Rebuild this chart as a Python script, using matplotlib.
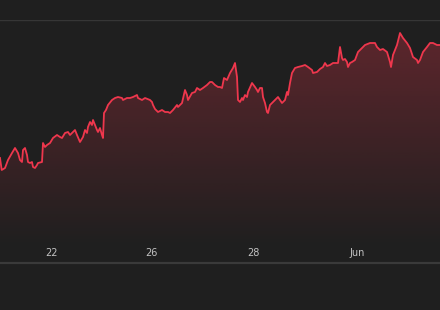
import numpy as np
import matplotlib
matplotlib.use("Agg")
import matplotlib.pyplot as plt
from matplotlib.colors import to_rgb

# session position (x) and price level (arbitrary units)
t = [0, 1.7, 5, 8, 12, 15, 18, 20, 22, 23, 25, 27, 28, 30, 32, 33, 35, 37, 38, 42, 43, 45, 47, 50,
     53, 57, 60, 62, 65, 68, 70, 73, 75, 77, 80, 83, 85, 87, 88, 90, 92, 93, 95, 97, 98, 100, 102,
     103, 104, 106, 108, 112, 115, 118, 122, 123, 127, 130, 133, 137, 138, 142, 145, 150, 152, 153,
     155, 158, 162, 165, 168, 170, 173, 177, 178, 182, 185, 187, 188, 192, 195, 197, 200, 203, 207,
     210, 212, 215, 218, 220, 222, 224, 227, 230, 233, 235, 237, 238, 240, 242, 243, 245, 247, 248,
     252, 255, 257, 258, 260, 262, 263, 265, 267, 268, 270, 273, 277, 278, 280, 282, 285, 287, 288,
     290, 292, 295, 298, 302, 305, 308, 312, 313, 317, 320, 323, 325, 327, 330, 333, 337, 338, 340,
     342, 343, 345, 347, 348, 350, 352, 355, 358, 362, 365, 370, 375, 377, 380, 383, 387, 390, 391,
     393, 397, 400, 403, 407, 410, 413, 417, 418, 420, 423, 427, 430, 433, 437, 440]
price = [105, 93, 95, 103, 110, 115, 110, 103, 101, 113, 115, 108, 101, 100, 101, 96, 95, 98, 100,
         101, 120, 116, 118, 120, 125, 128, 126, 125, 130, 131, 128, 131, 133, 128, 121, 126, 133,
         130, 136, 141, 138, 143, 138, 133, 131, 135, 128, 125, 150, 153, 158, 163, 165, 166, 165,
         163, 165, 165, 166, 168, 165, 163, 165, 163, 161, 158, 154, 151, 153, 151, 151, 150, 153,
         158, 156, 160, 173, 168, 163, 170, 171, 175, 173, 175, 178, 181, 181, 178, 176, 176, 175,
         185, 183, 190, 195, 200, 186, 163, 161, 165, 163, 168, 166, 171, 180, 176, 173, 171, 175,
         175, 166, 160, 151, 150, 158, 161, 165, 166, 163, 160, 163, 171, 168, 180, 190, 195, 196,
         197, 198, 196, 193, 190, 191, 194, 196, 200, 197, 198, 200, 200, 200, 216, 205, 203, 204,
         201, 196, 200, 201, 203, 211, 215, 218, 220, 220, 216, 213, 214, 211, 201, 196, 208, 218,
         230, 225, 220, 215, 206, 203, 200, 203, 211, 216, 220, 220, 218, 218]
tick_pos = [51, 151, 253, 357]
tick_labels = ["22", "26", "28", "Jun"]

bg = "#1f1f1f"
line_c = "#ee374d"

fig = plt.figure(figsize=(4.4, 3.1), dpi=100, facecolor=bg)
ax = fig.add_axes([0, (310 - 263) / 310, 1, (263 - 20) / 310])
ax.set_facecolor(bg)

# gradient fill under the line
poly = ax.fill_between(t, price, 0, color="none", lw=0)
rgb = to_rgb(line_c)
n = 256
alpha = np.linspace(0.0, 0.30, n)
lo, hi = 15, max(price)
grad = np.zeros((n, 1, 4))
grad[:, 0, :3] = rgb
grad[:, 0, 3] = alpha
grad = grad[::-1]
img = ax.imshow(grad, extent=[0, 440, lo, hi], aspect="auto", origin="upper", zorder=1,
                interpolation="bilinear")
path = poly.get_paths()[0]
img.set_clip_path(path, transform=ax.transData)
ax.set_xlim(0, 440)
ax.set_ylim(0, 243)

ax.plot(t, price, color=line_c, lw=1.3, zorder=3, solid_joinstyle="round")

# frame / grid
for s in ["left", "right", "bottom", "top"]:
    ax.spines[s].set_visible(False)
ax.axhline(243, color="#363636", lw=1.0, zorder=0)
ax.axhline(0, color="#3a3a3a", lw=1.6, zorder=4, clip_on=False)

ax.set_yticks([])
ax.set_xticks(tick_pos)
ax.set_xticklabels(tick_labels)
ax.tick_params(axis="x", length=0, pad=-11, labelsize=7, labelcolor="#c2c2c2")

fig.savefig("out.png", dpi=100, facecolor=bg)
